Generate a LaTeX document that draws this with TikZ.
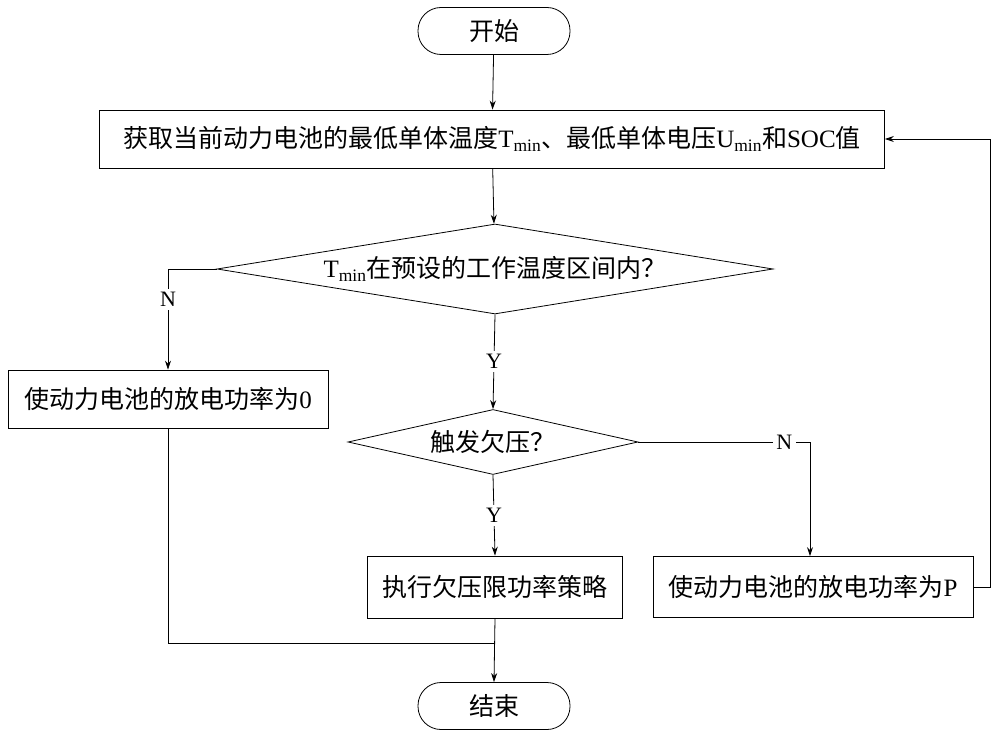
\documentclass[tikz,border=0pt]{standalone}
\usepackage{fontspec}
\setmainfont{Liberation Serif}
\newfontfamily\cjk{Noto Sans CJK SC}
\newcommand{\C}[1]{{\cjk #1}}
\usetikzlibrary{shapes.geometric,arrows.meta}
\begin{document}
\begin{tikzpicture}[x=1pt,y=-1pt,font=\fontsize{25}{29}\selectfont,
  box/.style={draw,thick,minimum height=58pt,inner sep=4pt},
  term/.style={draw,thick,rounded corners=23pt,minimum width=152pt,minimum height=47pt},
  ar/.style={thick,-{Stealth[length=9pt,width=6pt]}},
  lab/.style={fill=white,font=\fontsize{22}{26}\selectfont},
  ln/.style={thick}]
\useasboundingbox (0,0) rectangle (1000,735);
\node[term] (s) at (494,31) {\C{开始}};
\node[box,minimum width=785pt] (b1) at (492,139) {\C{获取当前动力电池的最低单体温度}T\textsubscript{min}\C{、最低单体电压}U\textsubscript{min}\C{和}SOC\C{值}};
\node[draw,thick,diamond,aspect=6.18,minimum width=556pt,minimum height=90pt,inner sep=0pt] (d1) at (495,269) {T\textsubscript{min}\C{在预设的工作温度区间内？}};
\node[box,minimum width=320pt] (b0) at (168,399) {\C{使动力电池的放电功率为}0};
\node[draw,thick,diamond,aspect=4.46,minimum width=290pt,minimum height=65pt,inner sep=0pt] (d2) at (493,442) {\C{触发欠压？}};
\node[box,minimum width=255pt,minimum height=62pt] (bx) at (495,587) {\C{执行欠压限功率策略}};
\node[box,minimum width=320pt,minimum height=61pt] (bp) at (813,587) {\C{使动力电池的放电功率为}P};
\node[term] (e) at (494,706) {\C{结束}};
\coordinate (c1) at (168,269);
\coordinate (c2) at (810,442);
\coordinate (c3) at (168,643);
\coordinate (c4) at (495,643);
\coordinate (c5) at (990,587);
\coordinate (c6) at (990,139);
\draw[ar] (s) -- (b1);
\draw[ar] (b1) -- (d1);
\draw[ar] (d1.west) -- (c1) -- node[lab,pos=0.3]{N} (b0.north);
\draw[ar] (d1.south) -- node[lab]{Y} (d2.north);
\draw[ar] (d2.east) -- node[lab,pos=0.85]{N} (c2) -- (bp.north -| c2);
\draw[ar] (d2.south) -- node[lab]{Y} (bx.north);
\draw[ar] (bx.south) -- (e.north);
\draw[ln] (b0.south) -- (c3) -- (c4);
\draw[ar] (bp.east) -- (c5) -- (c6) -- (b1.east);
\end{tikzpicture}
\end{document}
